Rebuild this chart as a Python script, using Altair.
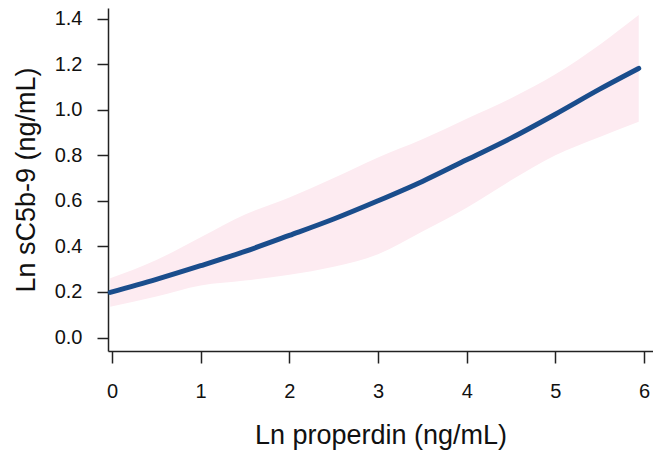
import altair as alt
import pandas as pd

# Fitted curve and 95% band
x_vals = [-0.02, 0.5, 1.0, 1.5, 2.0, 2.5, 3.0, 3.5, 4.0, 4.5, 5.0, 5.5, 5.94]
fit = [0.198, 0.255, 0.315, 0.378, 0.448, 0.52, 0.60, 0.685, 0.78, 0.875, 0.98, 1.09, 1.181]
lower = [0.135, 0.18, 0.228, 0.25, 0.275, 0.31, 0.365, 0.465, 0.57, 0.69, 0.80, 0.88, 0.947]
upper = [0.26, 0.34, 0.44, 0.54, 0.615, 0.70, 0.79, 0.87, 0.96, 1.05, 1.155, 1.285, 1.415]

x_ticks = [0, 1, 2, 3, 4, 5, 6]
y_ticks = [0.0, 0.2, 0.4, 0.6, 0.8, 1.0, 1.2, 1.4]

df = pd.DataFrame({"x": x_vals, "fit": fit, "lo": lower, "hi": upper})

FONT = "Liberation Sans"
AX = "#222222"

xscale = alt.Scale(domain=[-0.0451, 6.101], nice=False, zero=False)
yscale = alt.Scale(domain=[-0.0592, 1.4461], nice=False, zero=False)

xaxis = alt.Axis(
    title="Ln properdin (ng/mL)", values=x_ticks, format="d", grid=False,
    domainColor=AX, domainWidth=1.5, tickColor=AX, tickWidth=1.5, tickSize=12,
    labelFont=FONT, labelFontSize=20, labelColor="#111111", labelPadding=18,
    titleFont=FONT, titleFontSize=27, titleFontWeight="normal", titleColor="#111111",
    titlePadding=21,
)
yaxis = alt.Axis(
    title="Ln sC5b-9 (ng/mL)", values=y_ticks, format=".1f", grid=False,
    domainColor=AX, domainWidth=1.5, tickColor=AX, tickWidth=1.5, tickSize=11,
    labelFont=FONT, labelFontSize=20, labelColor="#111111", labelPadding=15,
    titleFont=FONT, titleFontSize=27, titleFontWeight="normal", titleColor="#111111",
    titlePadding=14,
)

band = alt.Chart(df).mark_area(color="#fdebf1", interpolate="monotone").encode(
    x=alt.X("x:Q", scale=xscale, axis=xaxis),
    y=alt.Y("lo:Q", scale=yscale, axis=yaxis),
    y2="hi:Q",
)
line = alt.Chart(df).mark_line(color="#1a4d8c", strokeWidth=5, strokeCap="round",
                               interpolate="monotone").encode(
    x=alt.X("x:Q", scale=xscale),
    y=alt.Y("fit:Q", scale=yscale),
)

chart = alt.layer(band, line).properties(
    width=545, height=343,
    autosize=alt.AutoSizeParams(type="none"),
    padding={"left": 100, "top": 0, "right": 0, "bottom": 102},
).configure_view(stroke=None)

chart.save("out.html", embed_options={"renderer": "svg", "actions": False})
